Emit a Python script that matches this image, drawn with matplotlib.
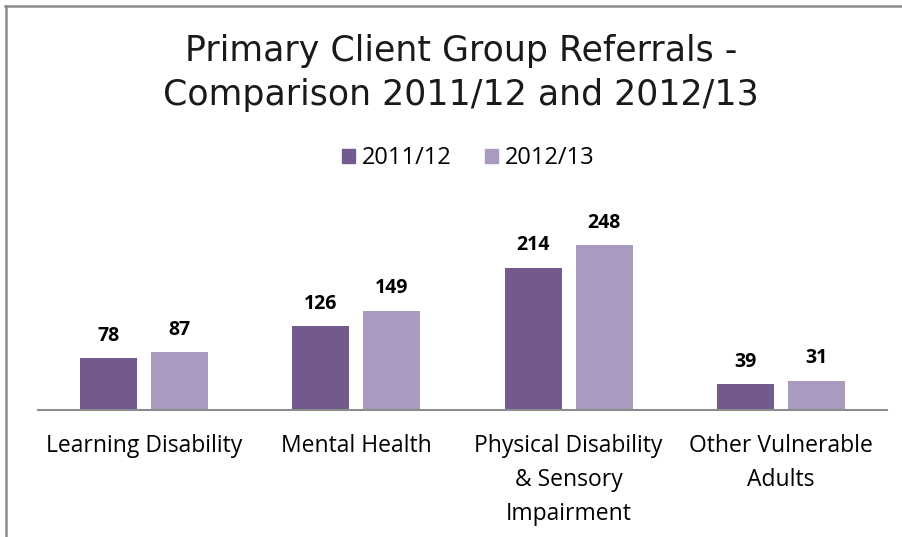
import matplotlib
matplotlib.use("Agg")
import matplotlib.pyplot as plt
import matplotlib.patches as mpatches
from matplotlib.lines import Line2D
import numpy as np

# --- Data ---
CATEGORIES = ["Learning Disability", "Mental Health",
              "Physical Disability\n& Sensory\nImpairment",
              "Other Vulnerable\nAdults"]
SERIES = ["2011/12", "2012/13"]
# bar heights as drawn in the source chart
VALUES_2011 = [78, 126, 214, 39]
VALUES_2012 = [87, 149, 248, 44]
# data labels as printed in the source chart
LABELS_2011 = ["78", "126", "214", "39"]
LABELS_2012 = ["87", "149", "248", "31"]

DARK = "#725A8F"
LIGHT = "#A99BC0"
W, H = 903, 537
TEXT_FONT = ["Open Sans", "DejaVu Sans"]

fig = plt.figure(figsize=(W / 100, H / 100), dpi=100)
fig.patch.set_facecolor("white")

# outer chart frame (top and left visible)
fig.add_artist(Line2D([5 / W, 1.0], [1 - 5.5 / H, 1 - 5.5 / H],
                      transform=fig.transFigure, color="#8c8c8c", lw=1.8))
fig.add_artist(Line2D([5.5 / W, 5.5 / W], [0, 1 - 5.5 / H],
                      transform=fig.transFigure, color="#8c8c8c", lw=1.8))

# plot area: baseline at y=410px, x from 38 to 887px
ymax = 300
px_per_unit = 142.3 / 214
top_px = 410 - ymax * px_per_unit
ax = fig.add_axes([38 / W, (H - 410) / H, (887 - 38) / W, (410 - top_px) / H])
ax.set_xlim(-0.5, 3.5)
ax.set_ylim(0, ymax)
for s in ["top", "right", "left"]:
    ax.spines[s].set_visible(False)
ax.spines["bottom"].set_color("#8c8c8c")
ax.spines["bottom"].set_linewidth(1.5)
ax.set_yticks([])
ax.set_xticks([])

x = np.arange(len(CATEGORIES))
bw = 0.2686
off = 0.167
b1 = ax.bar(x - off, VALUES_2011, bw, color=DARK, label=SERIES[0])
b2 = ax.bar(x + off, VALUES_2012, bw, color=LIGHT, label=SERIES[1])

for bars, labels in ((b1, LABELS_2011), (b2, LABELS_2012)):
    for rect, lab in zip(bars, labels):
        ax.annotate(lab, (rect.get_x() + rect.get_width() / 2, rect.get_height()),
                    xytext=(0, 9), textcoords="offset points",
                    ha="center", va="bottom", fontsize=14, fontweight="bold",
                    family=TEXT_FONT)

for xi, cat in zip(x, CATEGORIES):
    ax.text(xi, -36.5, cat, ha="center", va="top", fontsize=16.5,
            family=TEXT_FONT, linespacing=1.55, transform=ax.transData,
            clip_on=False)

fig.text(461 / W, 1 - 73 / H, "Primary Client Group Referrals -\nComparison 2011/12 and 2012/13",
         ha="center", va="center", fontsize=25, family=["DejaVu Sans"],
         linespacing=1.35, color="#1a1a1a")

handles = [mpatches.Patch(color=DARK, label=SERIES[0]),
           mpatches.Patch(color=LIGHT, label=SERIES[1])]
fig.legend(handles=handles, loc="center", bbox_to_anchor=(468 / W, 1 - 158 / H),
           ncol=2, frameon=False, prop={"family": TEXT_FONT, "size": 17},
           handlelength=0.55, handleheight=0.55, handletextpad=0.3,
           columnspacing=1.4)

fig.savefig("out.png", dpi=100, facecolor="white")
